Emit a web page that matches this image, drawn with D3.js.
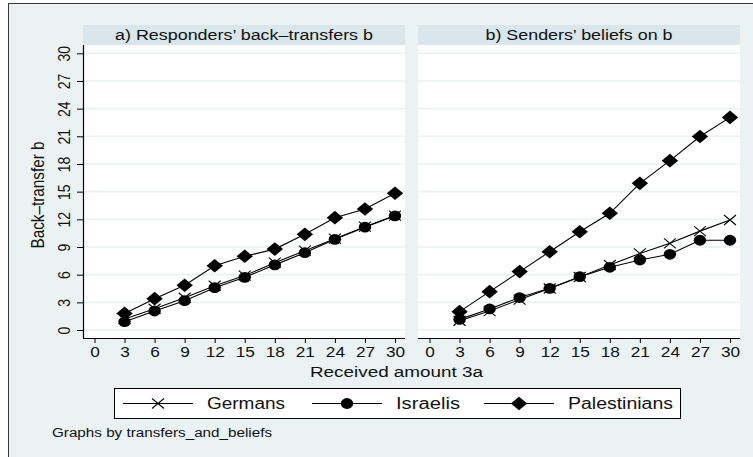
<!DOCTYPE html>
<html><head><meta charset="utf-8">
<script src="https://cdn.jsdelivr.net/npm/d3@7"></script>
<style>html,body{margin:0;padding:0;background:#fff;} svg{display:block;font-family:"Liberation Sans",Arial,sans-serif;}</style>
</head><body>
<script>
const xTicks = [0,3,6,9,12,15,18,21,24,27,30];
const yTicks = [0,3,6,9,12,15,18,21,24,27,30];
const amounts = [3,6,9,12,15,18,21,24,27,30];
const panelTitles = ["a) Responders\u2019 back\u2013transfers b", "b) Senders\u2019 beliefs on b"];
const seriesNames = ["Germans","Israelis","Palestinians"];
const seriesMarkers = ["x","circle","diamond"];
// panel a) responders' back-transfers
const aGermans      = [1.2,2.3,3.5,4.8,5.9,7.3,8.6,9.9,11.2,12.4];
const aIsraelis     = [0.9,2.06,3.18,4.59,5.71,7.06,8.38,9.83,11.15,12.38];
const aPalestinians = [1.8,3.4,4.85,6.97,7.99,8.77,10.37,12.18,13.12,14.82];
// panel b) senders' beliefs
const bGermans      = [1.0,2.05,3.3,4.5,5.75,7.05,8.3,9.4,10.72,11.93];
const bIsraelis     = [1.15,2.28,3.52,4.52,5.78,6.8,7.59,8.21,9.73,9.73];
const bPalestinians = [1.99,4.16,6.33,8.49,10.66,12.65,15.9,18.36,20.98,23.05];

const W = 753, H = 457;
const SX = 1.23; // horizontal stretch of the reference rendering
const svg = d3.select("body").append("svg").attr("width", W).attr("height", H);
svg.append("rect").attr("x",8.5).attr("y",3.5).attr("width",W+10).attr("height",H+10)
  .attr("fill","#eaf2f3").attr("stroke","#3a3a3a").attr("stroke-width",1);

function htext(parent, x, y, str, size, anchor, len) {
  const t = parent.append("text").attr("transform",`translate(${x},${y}) scale(${SX},1)`)
    .attr("dy","0.36em").attr("text-anchor",anchor||"start").attr("font-size",size).attr("fill","#111").text(str);
  if (len) t.attr("textLength", len/SX).attr("lengthAdjust","spacingAndGlyphs");
  return t;
}

const panels = [
  {left:83, right:405, data:[aGermans,aIsraelis,aPalestinians], yAxis:true, titleW:258},
  {left:418, right:740, data:[bGermans,bIsraelis,bPalestinians], yAxis:false, titleW:187}
];
const plotTop = 45, plotBottom = 338, stripTop = 25;
const y = d3.scaleLinear().domain([0,30]).range([330,53.3]);

function marker(g, type, cx, cy) {
  if (type === "x") {
    const sx = 6.0, sy = 5.0;
    g.append("path").attr("d",`M${cx-sx},${cy-sy}L${cx+sx},${cy+sy}M${cx-sx},${cy+sy}L${cx+sx},${cy-sy}`)
      .attr("stroke","#000").attr("stroke-width",1.1).attr("fill","none");
  } else if (type === "circle") {
    g.append("ellipse").attr("cx",cx).attr("cy",cy).attr("rx",6.2).attr("ry",5.4).attr("fill","#000");
  } else {
    const sx = 8.2, sy = 6.8;
    g.append("path").attr("d",`M${cx},${cy-sy}L${cx+sx},${cy}L${cx},${cy+sy}L${cx-sx},${cy}Z`).attr("fill","#000");
  }
}

panels.forEach((p,i) => {
  const g = svg.append("g");
  const x = d3.scaleLinear().domain([0,30]).range([p.left+11.5, p.right-10]);
  g.append("rect").attr("x",p.left).attr("y",stripTop).attr("width",p.right-p.left).attr("height",plotTop-stripTop)
    .attr("fill","#d9e6eb");
  htext(g, (p.left+p.right)/2, (stripTop+plotTop)/2, panelTitles[i], 14, "middle", p.titleW);
  g.append("rect").attr("x",p.left).attr("y",plotTop).attr("width",p.right-p.left).attr("height",plotBottom-plotTop)
    .attr("fill","#fff");
  g.selectAll("line.grid").data(yTicks).enter().append("line")
    .attr("x1",p.left).attr("x2",p.right).attr("y1",d=>y(d)).attr("y2",d=>y(d))
    .attr("stroke","#eaf2f3").attr("stroke-width",1.6);
  const xa = g.append("g").attr("transform",`translate(0,${plotBottom})`)
    .call(d3.axisBottom(x).tickValues(xTicks).tickSize(5).tickPadding(3));
  xa.select(".domain").attr("d",`M${p.left},0.5H${p.right}`).attr("stroke","#000").attr("stroke-width",1.2);
  xa.selectAll(".tick line").attr("stroke","#000");
  xa.selectAll("text").attr("font-size",14).attr("fill","#111").attr("font-family","Liberation Sans, Arial, sans-serif")
    .attr("transform",`translate(0,14) scale(${SX},1)`).attr("y",0).attr("dy","0.36em");
  if (p.yAxis) {
    const ya = g.append("g").attr("transform",`translate(${p.left},0)`)
      .call(d3.axisLeft(y).tickValues(yTicks).tickSize(6).tickPadding(3));
    ya.select(".domain").attr("d",`M0.5,${plotTop}V${plotBottom}`).attr("stroke","#000").attr("stroke-width",1.2);
    ya.selectAll(".tick line").attr("stroke","#000");
    ya.selectAll("text").attr("font-size",14).attr("fill","#111").attr("font-family","Liberation Sans, Arial, sans-serif")
      .attr("text-anchor","middle").attr("x",null)
      .attr("transform",`translate(-19.5,0) scale(${SX},1) rotate(-90)`).attr("dy","0.36em");
  }
  const line = d3.line().x((d,j)=>x(amounts[j])).y(d=>y(d));
  p.data.forEach(vals => {
    g.append("path").attr("d",line(vals)).attr("fill","none").attr("stroke","#000").attr("stroke-width",1.1);
  });
  p.data.forEach((vals,k) => {
    vals.forEach((v,j) => marker(g, seriesMarkers[k], x(amounts[j]), y(v)));
  });
});

// y axis title
svg.append("text").attr("transform",`translate(37,195) scale(${SX},1) rotate(-90)`).attr("dy","0.36em")
  .attr("text-anchor","middle").attr("font-size",15.3).attr("fill","#111").text("Back\u2013transfer b");
// x axis title
htext(svg, 396.5, 371, "Received amount 3a", 15.3, "middle", 173);

// legend
const leg = svg.append("g");
leg.append("rect").attr("x",114.5).attr("y",388.5).attr("width",566).attr("height",30)
  .attr("fill","#fff").attr("stroke","#000").attr("stroke-width",1);
const legLines = [[123,193],[312,382],[484,554]];
const legText = [207,396,568];
const legW = [78,64,105];
seriesNames.forEach((n,k) => {
  leg.append("line").attr("x1",legLines[k][0]).attr("x2",legLines[k][1]).attr("y1",403.5).attr("y2",403.5)
    .attr("stroke","#000").attr("stroke-width",1.1);
  marker(leg, seriesMarkers[k], (legLines[k][0]+legLines[k][1])/2, 403.5);
  htext(leg, legText[k], 403.5, n, 16, "start", legW[k]);
});
htext(svg, 52, 432, "Graphs by transfers_and_beliefs", 12.5, "start", 220);
</script>
</body></html>
